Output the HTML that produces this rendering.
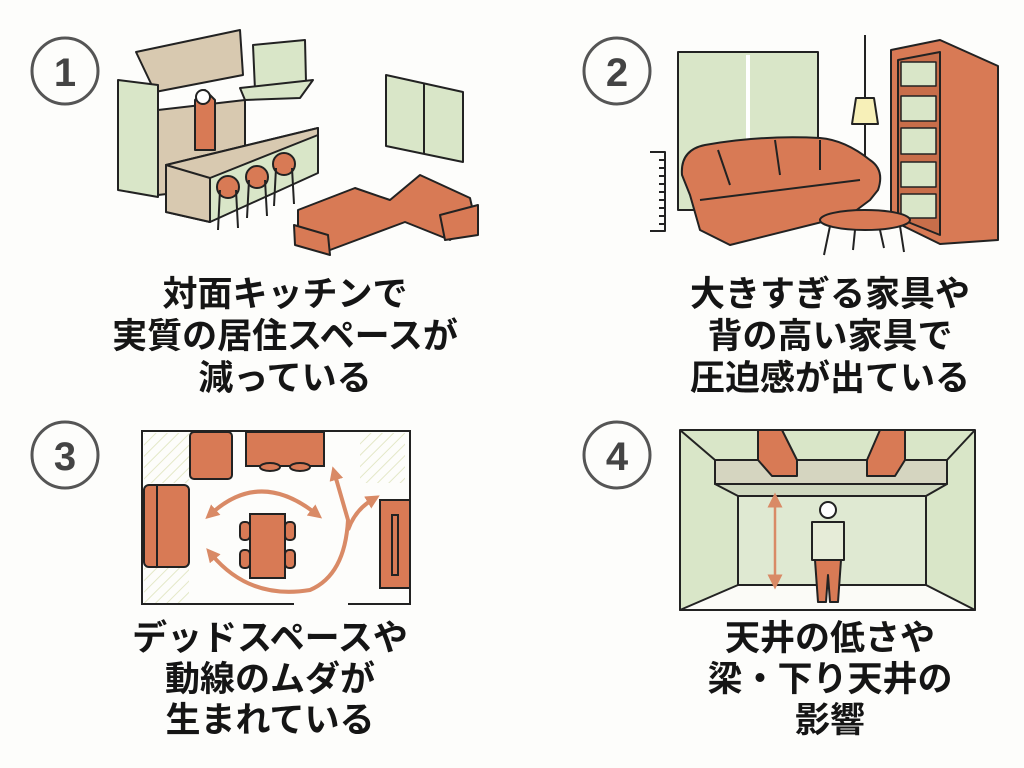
<!DOCTYPE html>
<html><head><meta charset="utf-8"><style>
html,body{margin:0;padding:0;background:#fdfdfb;}
svg{display:block}
text{font-family:"Liberation Sans","Noto Sans CJK JP",sans-serif;font-weight:bold;fill:#151515}
</style></head><body>
<svg width="1024" height="768" viewBox="0 0 1024 768" xmlns="http://www.w3.org/2000/svg">
<defs>
<pattern id="hatch" width="8" height="8" patternUnits="userSpaceOnUse" patternTransform="rotate(45)">
<line x1="0" y1="0" x2="0" y2="8" stroke="#e4e8c8" stroke-width="2"/>
</pattern>
<marker id="ah" markerWidth="6" markerHeight="6" refX="3" refY="3" orient="auto-start-reverse"><path d="M0,0 L6,3 L0,6 z" fill="#d98a66"/></marker>
<marker id="ah2" markerWidth="14" markerHeight="14" refX="5" refY="7" orient="auto-start-reverse" markerUnits="userSpaceOnUse"><path d="M0,0 L14,7 L0,14 z" fill="#d98a66"/></marker>
</defs>
<rect width="1024" height="768" fill="#fdfdfb"/>
<!-- number circles -->
<g fill="none" stroke="#555" stroke-width="3">
<circle cx="65" cy="71" r="33"/><circle cx="617" cy="71" r="33"/>
<circle cx="65" cy="455" r="33"/><circle cx="617" cy="455" r="33"/>
</g>
<g style="font-size:40px" text-anchor="middle"><text x="65" y="86" style="fill:#444">1</text><text x="617" y="86" style="fill:#444">2</text><text x="65" y="470" style="fill:#444">3</text><text x="617" y="470" style="fill:#444">4</text></g>

<!-- PANEL 1 kitchen -->
<g stroke="#222" stroke-width="2" stroke-linejoin="round">
<polygon points="136,52 240,30 243,75 155,92" fill="#d8c9b0"/>
<polygon points="253,45 305,40 306,82 255,90" fill="#d9e6c8"/>
<polygon points="240,88 313,80 300,98 245,100" fill="#d9e6c8"/>
<polygon points="118,80 158,85 158,197 118,190" fill="#d9e6c8"/>
<polygon points="158,110 245,100 245,185 158,195" fill="#d8c9b0"/>
<polygon points="195,100 205,90 215,100 215,150 195,150" fill="#d87a55"/>
<circle cx="203" cy="97" r="7" fill="#fff"/>
<polygon points="166,165 318,128 318,173 210,222 166,212" fill="#d9e6c8"/>
<polygon points="166,165 210,175 210,222 166,212" fill="#d8c9b0"/>
<polygon points="166,165 318,128 318,135 210,178" fill="#d8c9b0"/>
<circle cx="228" cy="187" r="11" fill="#d87a55"/>
<circle cx="257" cy="177" r="11" fill="#d87a55"/>
<circle cx="284" cy="164" r="11" fill="#d87a55"/>
<path d="M220 190 L218 230 M236 190 L238 228 M249 180 L247 218 M265 180 L267 216 M276 168 L274 206 M292 168 L294 204" fill="none"/>
<polygon points="386,75 463,92 463,162 386,146" fill="#d9e6c8"/>
<line x1="424" y1="83" x2="424" y2="154"/>
<!-- L sofa -->
<polygon points="298,210 355,188 390,200 420,175 470,198 475,220 450,240 405,222 330,250 298,240" fill="#d87a55"/>
<polygon points="294,225 328,235 330,255 295,245" fill="#d87a55"/>
<polygon points="440,215 478,205 478,235 445,240" fill="#d87a55"/>
</g>
<g text-anchor="middle" style="font-size:35px">
<text x="285" y="306">対面キッチンで</text>
<text x="285" y="348">実質の居住スペースが</text>
<text x="285" y="390">減っている</text>
</g>

<!-- PANEL 2 -->
<g stroke="#222" stroke-width="2" stroke-linejoin="round">
<rect x="678" y="52" width="140" height="158" fill="#d9e6c8"/>
<line x1="748" y1="55" x2="748" y2="140" stroke="#fff" stroke-width="4"/>
<line x1="865" y1="35" x2="865" y2="160"/>
<polygon points="856,98 874,98 878,124 852,124" fill="#f7f0b8"/>
<polygon points="891,50 940,40 998,66 998,240 940,244 891,220" fill="#d87a55"/>
<polygon points="898,60 940,52 940,235 898,218" fill="#c86e4a"/>
<g stroke-width="1.5" fill="#d9e6c8">
<rect x="901" y="62" width="35" height="24"/><rect x="901" y="96" width="35" height="25"/><rect x="901" y="128" width="35" height="26"/><rect x="901" y="162" width="35" height="25"/><rect x="901" y="194" width="35" height="24"/>
</g>
<path d="M682 175 Q680 150 705 145 Q760 135 820 138 Q845 140 870 160 Q885 170 878 190 L870 200 L850 215 L730 245 L700 230 L690 195 Z" fill="#d87a55"/>
<path d="M718 150 L730 185 M775 140 L780 175 M820 140 L820 170 M700 200 L860 180" fill="none"/>
<ellipse cx="865" cy="220" rx="45" ry="10" fill="#d87a55"/>
<path d="M830 226 L824 255 M900 226 L904 252 M855 230 L853 250 M880 230 L884 248" fill="none"/>
<path d="M650 152 L665 152 L665 231 L650 231 M659 160 h6 M659 168 h6 M659 176 h6 M659 184 h6 M659 192 h6 M659 200 h6 M659 208 h6 M659 216 h6 M659 224 h6" fill="none"/>
</g>
<g text-anchor="middle" style="font-size:35px">
<text x="830" y="306">大きすぎる家具や</text>
<text x="830" y="348">背の高い家具で</text>
<text x="830" y="390">圧迫感が出ている</text>
</g>

<!-- PANEL 3 floor plan -->
<rect x="144" y="433" width="45" height="50" fill="url(#hatch)"/>
<rect x="360" y="433" width="45" height="50" fill="url(#hatch)"/>
<rect x="144" y="567" width="45" height="36" fill="url(#hatch)"/>
<g stroke="#222" stroke-width="2">
<path d="M294 604 L142 604 L142 431 L410 431 L410 604 L348 604" fill="none"/>
<rect x="190" y="432" width="42" height="47" rx="4" fill="#d87a55"/>
<rect x="246" y="432" width="78" height="34" fill="#d87a55"/>
<ellipse cx="270" cy="467" rx="10" ry="4" fill="#d87a55"/><ellipse cx="300" cy="467" rx="10" ry="4" fill="#d87a55"/>
<rect x="144" y="485" width="45" height="82" rx="5" fill="#d87a55"/>
<line x1="157" y1="486" x2="157" y2="566"/>
<rect x="250" y="514" width="35" height="64" fill="#d87a55"/>
<rect x="240" y="522" width="10" height="18" rx="4" fill="#d87a55"/><rect x="240" y="550" width="10" height="18" rx="4" fill="#d87a55"/>
<rect x="285" y="522" width="10" height="18" rx="4" fill="#d87a55"/><rect x="285" y="550" width="10" height="18" rx="4" fill="#d87a55"/>
<rect x="380" y="500" width="30" height="88" fill="#d87a55"/>
<rect x="392" y="515" width="6" height="60" fill="#d87a55"/>
</g>
<g stroke="#d98a66" stroke-width="4" fill="none">
<path d="M212 513 Q260 470 315 513" marker-start="url(#ah2)" marker-end="url(#ah2)"/>
<path d="M212 555 Q250 600 310 590 Q345 575 348 520 L335 475" marker-start="url(#ah2)" marker-end="url(#ah2)"/>
<path d="M348 530 Q355 510 372 500" marker-end="url(#ah2)"/>
</g>
<g text-anchor="middle" style="font-size:35px">
<text x="270" y="650">デッドスペースや</text>
<text x="270" y="691">動線のムダが</text>
<text x="270" y="732">生まれている</text>
</g>

<!-- PANEL 4 -->
<g stroke="#222" stroke-width="2" stroke-linejoin="round">
<polygon points="680,430 975,430 975,610 680,610" fill="#d9e6c8"/>
<polygon points="680,610 738,585 926,585 975,610" fill="#fbfbf7"/>
<line x1="680" y1="430" x2="715" y2="460"/><line x1="975" y1="430" x2="947" y2="460"/>
<rect x="738" y="496" width="188" height="89" fill="#dfe9d2"/>
<polygon points="715,460 947,460 947,484 715,484" fill="#d5d5c0"/>
<polygon points="715,484 947,484 926,496 738,496" fill="#cfd8bf"/>
<polygon points="758,430 782,430 797,460 797,476 772,476 758,460" fill="#d87a55"/>
<polygon points="880,430 905,430 905,460 895,476 867,476 867,460" fill="#d87a55"/>
<circle cx="828" cy="510" r="8" fill="#fff"/>
<path d="M812 522 L844 522 L844 560 L812 560 Z" fill="#e6ecd8"/>
<path d="M815 560 L841 560 L838 602 L830 602 L828 575 L826 602 L818 602 Z" fill="#d87a55"/>
</g>
<path d="M775 500 L775 582" stroke="#d98a66" stroke-width="2.5" marker-start="url(#ah)" marker-end="url(#ah)"/>
<g text-anchor="middle" style="font-size:35px">
<text x="830" y="650">天井の低さや</text>
<text x="830" y="691">梁・下り天井の</text>
<text x="830" y="732">影響</text>
</g>
</svg>
</body></html>
